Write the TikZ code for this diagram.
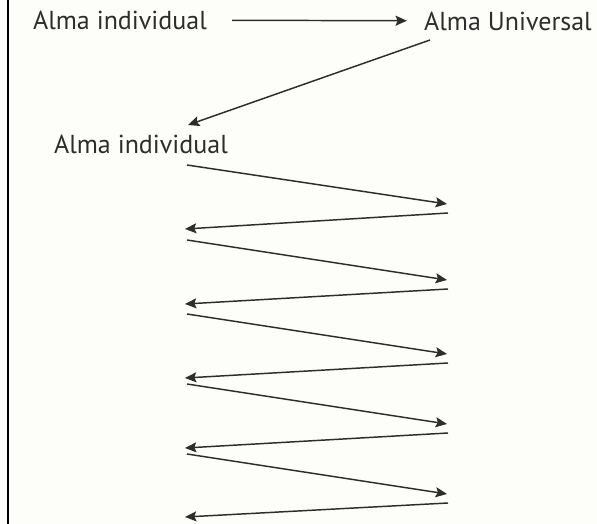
\documentclass[tikz,border=0pt]{standalone}
\usepackage{fontspec}
\setmainfont{PT Sans}
\usetikzlibrary{arrows.meta}
\definecolor{ink}{RGB}{45,45,45}
\definecolor{paper}{RGB}{253,253,249}

\begin{document}
\begin{tikzpicture}[x=0.75pt, y=-0.75pt, lbl/.style = {text=ink, font=\fontsize{19.5}{22}\selectfont, inner sep=0pt}, arr/.style = {draw=ink, line width=1.1pt, -{Stealth[length=8.5pt, width=7.5pt, inset=1.5pt]}}]
		\fill[paper] (0,0) rectangle (597,524);
		\useasboundingbox (0,0) rectangle (597,524);
		\draw[line width=1.5pt] (8,0) -- (8,524);
		% labels
		\node[lbl] (1) at (120,20) {Alma individual};
		\node[lbl] (2) at (508,21) {Alma Universal};
		\node[lbl] (3) at (141,144) {Alma individual};
		\coordinate (u) at (430,40);
		\coordinate (v) at (188,125);
		% zigzag points
		\coordinate (a1) at (187,165); \coordinate (b1) at (447,204);
		\coordinate (c1) at (448,213); \coordinate (d1) at (185,229);
		\coordinate (a2) at (187,240); \coordinate (b2) at (447,280);
		\coordinate (c2) at (448,289); \coordinate (d2) at (185,304);
		\coordinate (a3) at (187,314); \coordinate (b3) at (447,354);
		\coordinate (c3) at (448,363); \coordinate (d3) at (185,378);
		\coordinate (a4) at (187,384); \coordinate (b4) at (447,424);
		\coordinate (c4) at (448,433); \coordinate (d4) at (185,448);
		\coordinate (a5) at (187,454); \coordinate (b5) at (447,494);
		\coordinate (c5) at (448,503); \coordinate (d5) at (185,517);
		\draw[arr, shorten <=25pt*0.75, shorten >=17pt*0.75] (1) -- (2);
		\draw[arr] (u) -- (v);
		\draw[arr] (a1) -- (b1);
		\draw[arr] (c1) -- (d1);
		\draw[arr] (a2) -- (b2);
		\draw[arr] (c2) -- (d2);
		\draw[arr] (a3) -- (b3);
		\draw[arr] (c3) -- (d3);
		\draw[arr] (a4) -- (b4);
		\draw[arr] (c4) -- (d4);
		\draw[arr] (a5) -- (b5);
		\draw[arr] (c5) -- (d5);
	\end{tikzpicture}
\end{document}
